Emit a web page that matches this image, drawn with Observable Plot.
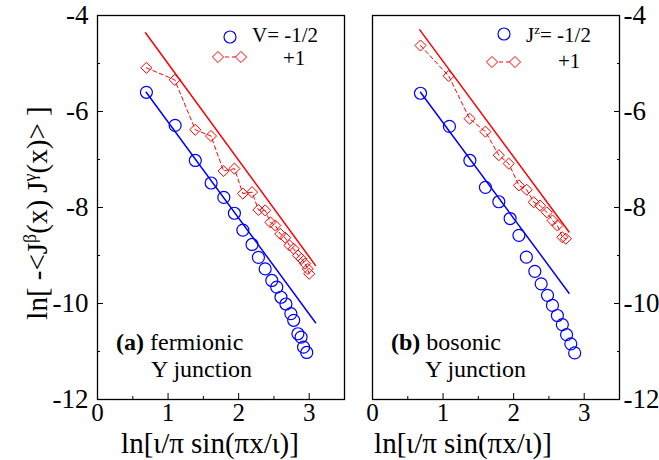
<!DOCTYPE html>
<html><head><meta charset="utf-8">
<script src="https://cdn.jsdelivr.net/npm/d3@7"></script>
<script src="https://cdn.jsdelivr.net/npm/@observablehq/plot@0.6"></script>
<style>
body{margin:0;background:#fff}
#wrap{position:relative;width:659px;height:460px;font-family:"Liberation Serif",serif}
#wrap svg{position:absolute;top:0}
#wrap svg text{font-family:"Liberation Serif",serif}
</style>
</head><body><div id="wrap"></div>
<script>
// axis ticks
const xTicks = [0, 1, 2, 3];
const xMinor = [0.5, 1.5, 2.5];
const yTicks = [-12, -10, -8, -6, -4];
const yMinor = [-11, -9, -7, -5];

// panel (a) fermionic: V = -1/2 (circles), V = +1 (diamonds)
const aCircX = [0.693, 1.10, 1.386, 1.61, 1.79, 1.94, 2.06, 2.19, 2.28, 2.376, 2.47, 2.54, 2.60, 2.67, 2.74, 2.78, 2.84, 2.885, 2.92, 2.965];
const aCircY = [-5.60, -6.29, -7.02, -7.49, -7.79, -8.12, -8.47, -8.77, -9.04, -9.28, -9.52, -9.66, -9.87, -10.01, -10.21, -10.35, -10.63, -10.70, -10.91, -11.02];
const aDiaX = [0.693, 1.094, 1.386, 1.608, 1.787, 1.94, 2.06, 2.19, 2.28, 2.376, 2.45, 2.52, 2.59, 2.66, 2.72, 2.78, 2.84, 2.89, 2.94, 2.98, 3.0];
const aDiaY = [-5.09, -5.34, -6.38, -6.51, -7.24, -7.19, -7.71, -7.68, -8.05, -8.06, -8.31, -8.375, -8.55, -8.63, -8.79, -8.86, -9.00, -9.07, -9.17, -9.28, -9.38];
const aFitBlueX = [0.69, 3.09], aFitBlueY = [-5.60, -10.40];
const aFitRedX = [0.68, 3.09], aFitRedY = [-4.36, -9.21];

// panel (b) bosonic: Jz = -1/2 (circles), Jz = +1 (diamonds)
const bCircX = [0.68, 1.09, 1.38, 1.60, 1.79, 1.95, 2.075, 2.18, 2.30, 2.39, 2.48, 2.55, 2.62, 2.69, 2.75, 2.81, 2.865];
const bCircY = [-5.62, -6.31, -7.02, -7.58, -7.88, -8.23, -8.58, -9.035, -9.33, -9.59, -9.83, -10.04, -10.25, -10.44, -10.65, -10.84, -11.03];
const bDiaX = [0.68, 1.08, 1.376, 1.60, 1.79, 1.93, 2.075, 2.185, 2.285, 2.375, 2.47, 2.55, 2.62, 2.69, 2.74];
const bDiaY = [-4.625, -5.26, -6.15, -6.42, -6.91, -7.085, -7.54, -7.63, -7.89, -7.96, -8.10, -8.27, -8.375, -8.62, -8.65];
const bFitBlueX = [0.68, 2.785], bFitBlueY = [-5.60, -9.785];
const bFitRedX = [0.67, 2.785], bFitRedY = [-4.30, -8.51];

const BLUE = "#0000ff", RED = "#ff0000";
const FONT = "'Liberation Serif', serif";
const zip = (xs, ys) => xs.map((x, i) => ({x, y: ys[i]}));

function panel({circX, circY, diaX, diaY, fbX, fbY, frX, frY, side, width, marginLeft, marginRight}) {
  const circ = zip(circX, circY), dia = zip(diaX, diaY);
  return Plot.plot({
    width, height: 460, marginLeft, marginRight, marginTop: 15, marginBottom: 61,
    x: {domain: [0, 3.5]},
    y: {domain: [-12, -4]},
    style: {fontFamily: FONT, background: "transparent", overflow: "visible"},
    marks: [
      Plot.axisX(xTicks, {tickSize: -6, tickFormat: () => "", label: null}),
      Plot.axisX(xMinor, {tickSize: -3, tickFormat: () => "", label: null}),
      Plot.axisX(xTicks, {tickSize: 0, tickPadding: 4, fontSize: 25, label: null, tickFormat: d => String(d), fill: "black"}),
      Plot.axisY(yTicks, {anchor: side, tickSize: -6, tickFormat: () => "", label: null}),
      Plot.axisY(yMinor, {anchor: side, tickSize: -3, tickFormat: () => "", label: null}),
      Plot.axisY(yTicks, {anchor: side, tickSize: 0, tickPadding: side === "left" ? 9 : 4, fontSize: 27, label: null, tickFormat: d => String(d), fill: "black"}),
      Plot.line(zip(frX, frY), {x: "x", y: "y", stroke: RED, strokeWidth: 1.5}),
      Plot.line(zip(fbX, fbY), {x: "x", y: "y", stroke: BLUE, strokeWidth: 1.5}),
      Plot.line(dia, {x: "x", y: "y", stroke: RED, strokeWidth: 1, strokeDasharray: "4,3"}),
      Plot.dot(dia, {x: "x", y: "y", symbol: "diamond2", r: 5, stroke: RED, strokeWidth: 1}),
      Plot.dot(circ, {x: "x", y: "y", r: 6, stroke: BLUE, strokeWidth: 1.2}),
      Plot.frame({stroke: "black", strokeWidth: 1.3})
    ]
  });
}

const wrap = document.getElementById("wrap");
const left = panel({circX: aCircX, circY: aCircY, diaX: aDiaX, diaY: aDiaY, fbX: aFitBlueX, fbY: aFitBlueY, frX: aFitRedX, frY: aFitRedY, side: "left", width: 360, marginLeft: 97, marginRight: 16});
left.style.left = "0px";
wrap.appendChild(left);
const right = panel({circX: bCircX, circY: bCircY, diaX: bDiaX, diaY: bDiaY, fbX: bFitBlueX, fbY: bFitBlueY, frX: bFitRedX, frY: bFitRedY, side: "right", width: 299, marginLeft: 12, marginRight: 40});
right.style.left = "360px";
wrap.appendChild(right);
[left, right].forEach(s => d3.select(s).selectAll("text").style("font-family", FONT));

// overlay: titles, labels, legends
const ov = d3.select(wrap).append("svg")
  .attr("width", 659).attr("height", 460)
  .style("left", "0px").style("pointer-events", "none")
  .style("font-family", FONT).attr("fill", "black");

function rich(g, x, y, parts, size, anchor = "start") {
  const t = g.append("text").attr("x", x).attr("y", y).attr("font-size", size).attr("text-anchor", anchor)
    .style("font-family", FONT);
  parts.forEach(p => {
    const s = t.append("tspan").text(p.t);
    if (p.sup) s.attr("font-size", size * 0.62).attr("dy", -size * 0.38);
    if (p.back) s.attr("dy", size * 0.38);
    if (p.bold) s.attr("font-weight", "bold");
  });
  return t;
}

// y-axis title
const yl = ov.append("g").attr("transform", "translate(47,213) rotate(-90)");
rich(yl, 0, 0, [
  {t: "ln[ -<J"}, {t: "β", sup: true}, {t: "(x) J", back: true}, {t: "γ", sup: true}, {t: "(x)> ]", back: true}
], 29, "middle");

// x-axis titles
rich(ov, 210, 453, [{t: "ln[ι/π sin(πx/ι)]"}], 29, "middle");
rich(ov, 463, 453, [{t: "ln[ι/π sin(πx/ι)]"}], 29, "middle");

// panel labels
rich(ov, 116, 350, [{t: "(a)", bold: true}, {t: " fermionic"}], 24);
rich(ov, 151, 377, [{t: "Y junction"}], 24);
rich(ov, 391, 350, [{t: "(b)", bold: true}, {t: " bosonic"}], 24);
rich(ov, 425, 377, [{t: "Y junction"}], 24);

// legends
function legend(cx, cy, dx1, dx2, dy, t1parts, t1x, t1y, t2x, t2y) {
  ov.append("circle").attr("cx", cx).attr("cy", cy).attr("r", 6)
    .attr("fill", "none").attr("stroke", BLUE).attr("stroke-width", 1.2);
  ov.append("line").attr("x1", dx1).attr("x2", dx2).attr("y1", dy).attr("y2", dy)
    .attr("stroke", RED).attr("stroke-width", 1).attr("stroke-dasharray", "4,3");
  const sym = d3.symbol(d3.symbolDiamond2, 25 * Math.PI);
  [dx1, dx2].forEach(x => ov.append("path").attr("d", sym()).attr("transform", `translate(${x},${dy})`)
    .attr("fill", "white").attr("stroke", RED).attr("stroke-width", 1));
  rich(ov, t1x, t1y, t1parts, 21);
  rich(ov, t2x, t2y, [{t: "+1"}], 21);
}
legend(230, 37, 218, 241, 57, [{t: "V= -1/2"}], 252, 42, 283, 65);
legend(504, 34, 492, 515, 62, [{t: "J"}, {t: "z", sup: true}, {t: "= -1/2", back: true}], 526, 42, 558, 68);
</script>
</body></html>
